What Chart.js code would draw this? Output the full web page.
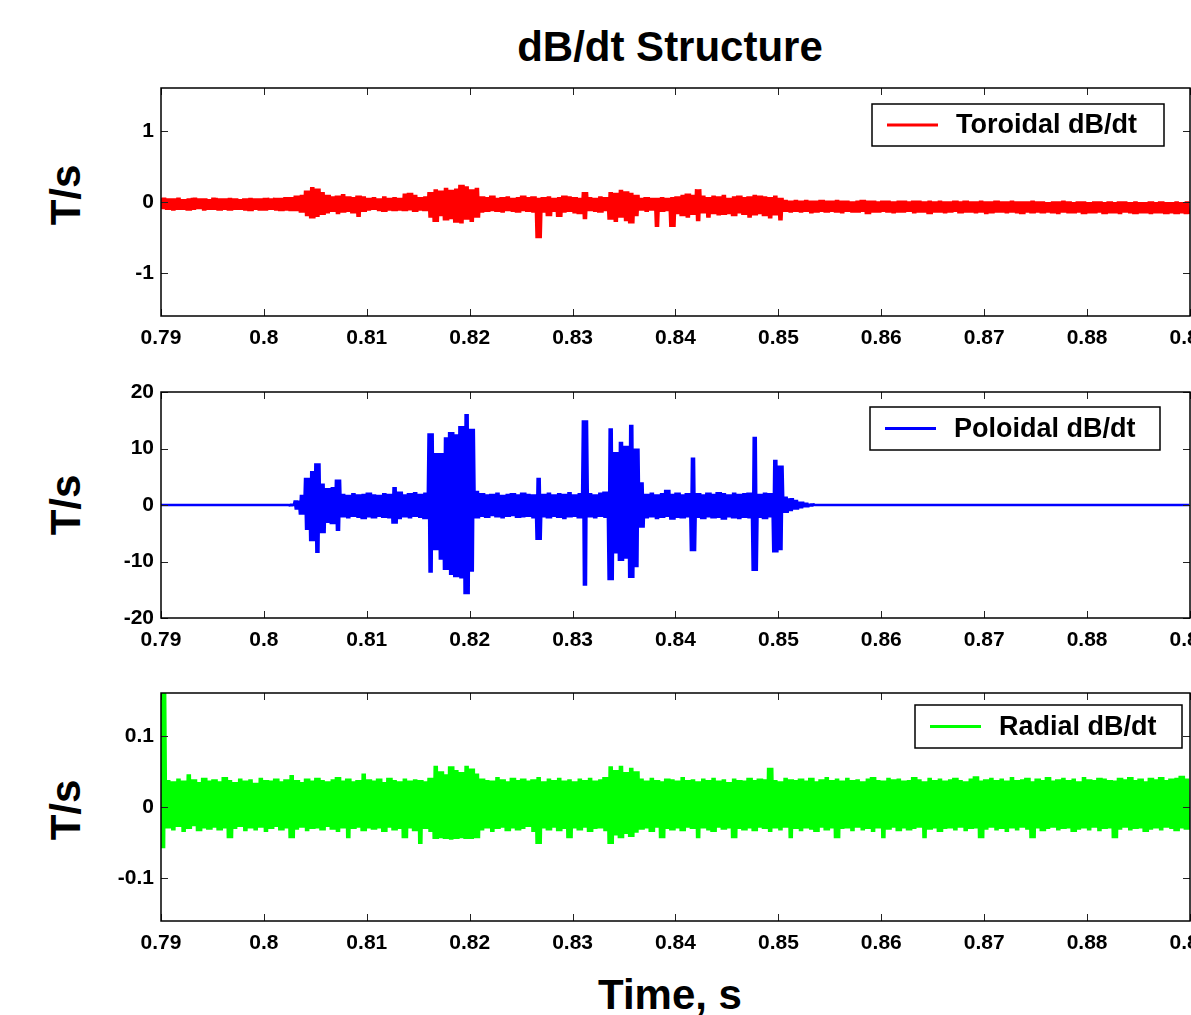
<!DOCTYPE html>
<html>
<head>
<meta charset="utf-8">
<title>dB/dt Structure</title>
<script src="https://cdn.jsdelivr.net/npm/chart.js@4.4.1/dist/chart.umd.min.js"></script>
<style>
  html, body { margin: 0; padding: 0; background: #fff; }
  body { width: 1191px; height: 1015px; overflow: hidden; position: relative;
         font-family: "Liberation Sans", Arial, sans-serif; }
  .panel { position: absolute; left: 0; width: 1240px; }
  .txt { position: absolute; font-weight: bold; color: #000; white-space: nowrap;
         text-align: center; font-size: 42px; line-height: 42px; }
  .ylab { width: 120px; height: 42px; transform: rotate(-90deg); }
</style>
</head>
<body>
<div class="txt" style="left:0;width:1340px;top:26px;">dB/dt Structure</div>
<div class="txt ylab" style="left:6px;top:174px;">T/s</div>
<div class="txt ylab" style="left:6px;top:484px;">T/s</div>
<div class="txt ylab" style="left:6px;top:789px;">T/s</div>
<div class="txt" style="left:0;width:1340px;top:974px;">Time, s</div>

<div class="panel" style="top:78px;height:288px;"><canvas id="torChart" width="1240" height="288"></canvas></div>
<div class="panel" style="top:382px;height:286px;"><canvas id="polChart" width="1240" height="286"></canvas></div>
<div class="panel" style="top:683px;height:288px;"><canvas id="radChart" width="1240" height="288"></canvas></div>

<script>
// time base: 0.5 ms envelope bins starting at 0.79 s
const timeStart = 0.79;
const binWidth = 0.0005;
const subSteps = 5;

const xTicks = [0.79, 0.80, 0.81, 0.82, 0.83, 0.84, 0.85, 0.86, 0.87, 0.88, 0.89];
const toroidalTicks = [-1, 0, 1];
const poloidalTicks = [-20, -10, 0, 10, 20];
const radialTicks = [-0.1, 0, 0.1];

// toroidal envelope, in 0.01 T/s
const toroidalHi = [
  6,5,5,6,4,5,6,5,5,4,6,5,5,6,5,4,5,6,5,5,6,5,6,6,7,7,
  9,10,
  16,21,19,14,
  10,8,9,11,8,7,9,8,
  6,7,5,8,6,7,6,
  12,13,10,
  7,8,
  14,18,16,20,17,19,24,22,18,20,
  8,7,9,6,7,8,6,7,9,7,8,
  6,
  7,8,6,7,9,8,7,6,14,
  7,6,8,7,
  14,13,17,15,13,10,
  6,7,6,
  6,
  7,6,
  7,
  8,10,12,10,18,9,
  7,9,8,10,6,8,9,7,8,10,9,8,7,9,6,
  3,2,3,2,3,2,2,3,2,2, 3,2,2,1,2,3,2,2,1,2, 2,1,2,2,1,2,2,1,2,1, 2,1,1,2,1,2,1,1,2,1,
  1,2,1,1,2,1,1,1,2,1, 1,0,1,1,2,1,0,1,1,0, 1,1,0,1,0,1,1,0,1,0, 0,1,0,1,0,0,1,0,1
];
const toroidalLo = [
  -10,-11,-12,-11,-11,-12,-11,-10,-12,-11,-11,-12,-11,-12,-11,-11,-12,-13,-11,-12,-12,-11,-12,-13,-12,-13,
  -13,-15,
  -20,-23,-21,-18,
  -16,-14,-17,-15,-14,-16,-21,-14,
  -12,-11,-13,-14,-12,-13,-12,
  -13,-12,-14,
  -12,-13,
  -22,-28,-20,-26,-24,-29,-30,-25,-28,-22,
  -15,-14,-13,-14,-15,-13,-14,-15,-13,-14,-15,
  -51,
  -15,-20,-14,-21,-15,-14,-16,-17,-24,
  -13,-14,-15,-13,
  -25,-28,-22,-27,-30,-20,
  -12,-14,-12,
  -35,
  -14,-13,
  -35,
  -17,-20,-22,-18,-27,-16,
  -22,-17,-19,-18,-17,-20,-16,-18,-22,-19,-17,-20,-23,-19,-26,
  -14,-15,-14,-15,-14,-16,-15,-14,-15,-14, -15,-16,-14,-15,-15,-14,-17,-15,-15,-14,
  -15,-16,-15,-15,-14,-16,-15,-15,-17,-15, -15,-16,-15,-14,-16,-15,-15,-16,-15,-17,
  -16,-15,-15,-16,-15,-16,-17,-15,-16,-15, -16,-15,-16,-17,-15,-16,-16,-15,-17,-16,
  -16,-15,-17,-16,-16,-17,-15,-16,-17,-16, -16,-17,-16,-16,-17,-16,-17,-16,-17
];

// poloidal envelope, in 0.1 T/s
const poloidalHi = [
  0,0,0,0,0,0,0,0,0,0,0,0,0,0,0,0,0,0,0,0,0,0,0,0,0,
  1,8,18,
  48,60,74,38,
  30,32,45,
  20,18,21,19,20,22,19,18,21,20,32,24,19,21,23,20,22,
  127,92,92,120,129,125,140,161,135,25,
  21,19,20,22,18,20,21,19,22,20,19,48,
  20,22,19,21,20,23,19,21,
  150,
  21,19,22,24,
  136,94,112,105,142,100,40,
  20,22,19,21,27,20,22,19,21,
  84,
  21,19,22,20,23,21,19,22,20,21,22,
  121,
  20,22,21,
  80,70,
  15,12,9,6,4,2,
  0,0,0,0,0,0,0,0,0,0,0,0,0,0,0,0,0,0,0,0,0,0,0,0,0,0,0,0,0,0,0,0,0,0,0,0,0,
  0,0,0,0,0,0,0,0,0,0,0,0,0,0,0,0,0,0,0,0,0,0,0,0,0,0,0,0,0,0,0,0,0,0,0,0
];
const poloidalLo = [
  0,0,0,0,0,0,0,0,0,0,0,0,0,0,0,0,0,0,0,0,0,0,0,0,0,
  -1,-8,-17,
  -44,-64,-85,-50,
  -32,-34,-46,
  -22,-24,-21,-23,-25,-22,-24,-21,-23,-24,-33,-25,-22,-24,-21,-23,-25,
  -120,-80,-97,-115,-124,-128,-130,-158,-118,-24,
  -21,-23,-20,-22,-24,-21,-20,-23,-22,-21,-24,-62,
  -22,-24,-21,-23,-25,-22,-21,-24,
  -143,
  -22,-24,-21,-23,
  -133,-86,-99,-95,-129,-110,-40,
  -24,-22,-25,-23,-21,-26,-23,-24,-22,
  -82,
  -23,-25,-22,-24,-23,-26,-22,-24,-25,-23,-24,
  -117,
  -23,-25,-22,
  -84,-80,
  -14,-11,-8,-6,-4,-2,
  0,0,0,0,0,0,0,0,0,0,0,0,0,0,0,0,0,0,0,0,0,0,0,0,0,0,0,0,0,0,0,0,0,0,0,0,0,
  0,0,0,0,0,0,0,0,0,0,0,0,0,0,0,0,0,0,0,0,0,0,0,0,0,0,0,0,0,0,0,0,0,0,0,0
];

// radial envelope, in 0.001 T/s
const radialHi = [
  165,
  38,36,40,37,46,39,35,41,37,39, 36,42,38,35,40,37,39,34,41,38,
  37,40,36,39,45,38,35,40,37,41, 38,36,39,42,37,40,36,38,47,39,
  37,40,35,41,38,36,40,37,39,38,
  36,41,
  58,50,46,57,52,49,58,54,47,
  40,38,37,42,39,36,41,38,40,37, 39,42,36,40,38,41,37,39,36,40, 38,41,37,39,42,
  57,52,58,49,55,50,
  40,37,41,38,36,40,39,37,42,38, 39,36,40,38,41,37,39,35,40,38,
  37,41,38,40,39,55,38,36,41,39, 38,40,37,41,36,39,42,38,40,37,
  41,38,39,36,40,42,38,37,41,39, 40,37,38,42,39,36,41,38,40,37,
  39,41,38,36,40,43,37,39,41,38, 40,37,42,38,39,41,36,40,38,42,
  37,39,41,38,40,36,42,39,38,41, 40,38,37,41,39,42,38,40,36,41,
  39,42,38,40,41,44,40
];
const radialLo = [
  -58,
  -30,-33,-28,-35,-31,-27,-34,-30,-32,-29, -33,-30,-44,-31,-28,-34,-30,-33,-29,-35,
  -31,-28,-33,-30,-44,-32,-29,-34,-31,-30, -33,-28,-32,-35,-30,-44,-31,-29,-34,-30,
  -32,-30,-35,-29,-33,-31,-44,-30,-34,-52,
  -31,-35,
  -45,-44,-45,-46,-45,-44,-45,-45,-44,
  -33,-30,-35,-31,-29,-34,-30,-33,-31,-28, -35,-52,-30,-33,-29,-34,-31,-44,-30,-33,
  -29,-35,-31,-30,-34,
  -52,-40,-44,-38,-42,-36,
  -32,-30,-35,-29,-44,-31,-33,-30,-34,-29, -31,-44,-30,-33,-35,-29,-32,-30,-44,-31,
  -33,-30,-34,-29,-31,-35,-30,-33,-29,-44, -31,-34,-30,-32,-35,-29,-33,-30,-44,-31,
  -30,-34,-29,-33,-31,-35,-30,-44,-32,-29, -34,-30,-33,-31,-29,-44,-32,-30,-35,-31,
  -30,-33,-29,-34,-31,-30,-44,-32,-29,-33, -31,-35,-30,-33,-29,-32,-44,-30,-34,-31,
  -29,-33,-31,-30,-35,-32,-30,-33,-29,-34, -31,-30,-44,-32,-29,-33,-31,-30,-35,-32,
  -30,-33,-29,-31,-34,-30,-32
];

// expand each envelope bin into alternating max/min samples
function buildTrace(hi, lo, unit) {
  const pts = [];
  hi.forEach((h, i) => {
    for (let k = 0; k < subSteps; k++) {
      const n = i * subSteps + k;
      pts.push({ x: timeStart + n * binWidth / subSteps, y: (n % 2 === 0 ? h : lo[i]) * unit });
    }
  });
  return pts;
}

// box, inward ticks and the framed legend
const matlabFrame = {
  id: 'matlabFrame',
  afterDatasetsDraw(chart, args, opts) {
    const { ctx, chartArea: a, scales } = chart;
    ctx.save();
    ctx.strokeStyle = '#222';
    ctx.lineWidth = 1;
    ctx.beginPath();
    scales.x.ticks.forEach(t => {
      const px = Math.round(scales.x.getPixelForValue(t.value)) + 0.5;
      ctx.moveTo(px, a.top); ctx.lineTo(px, a.top + 7);
      ctx.moveTo(px, a.bottom); ctx.lineTo(px, a.bottom - 7);
    });
    scales.y.ticks.forEach(t => {
      const py = Math.round(scales.y.getPixelForValue(t.value)) + 0.5;
      ctx.moveTo(a.left, py); ctx.lineTo(a.left + 7, py);
      ctx.moveTo(a.right, py); ctx.lineTo(a.right - 7, py);
    });
    ctx.stroke();
    ctx.strokeStyle = '#000';
    ctx.lineWidth = 1.5;
    ctx.strokeRect(a.left, a.top, a.right - a.left, a.bottom - a.top);

    const lg = opts.legend;
    const bx = a.right - lg.right - lg.width;
    const by = a.top + lg.top;
    ctx.fillStyle = '#fff';
    ctx.fillRect(bx, by, lg.width, lg.height);
    ctx.strokeRect(bx, by, lg.width, lg.height);
    const my = by + lg.height / 2;
    ctx.strokeStyle = lg.color;
    ctx.lineWidth = 3;
    ctx.beginPath();
    ctx.moveTo(bx + 15, my); ctx.lineTo(bx + 66, my);
    ctx.stroke();
    ctx.fillStyle = '#000';
    ctx.font = 'bold 27px "Liberation Sans", Arial, sans-serif';
    ctx.textBaseline = 'middle';
    ctx.fillText(lg.text, bx + 84, my + 1);
    ctx.restore();
  }
};

const tickFont = { family: '"Liberation Sans", Arial, sans-serif', size: 21, weight: 'bold' };
const fmt = v => String(+Number(v).toFixed(2));

function makeChart(id, label, color, data, yMin, yMax, yTicks, legend) {
  return new Chart(document.getElementById(id), {
    type: 'line',
    data: {
      datasets: [{
        label: label,
        data: data,
        borderColor: color,
        borderWidth: 2.5,
        borderJoinStyle: 'bevel',
        pointRadius: 0,
        tension: 0,
        fill: false
      }]
    },
    options: {
      responsive: false,
      animation: false,
      parsing: false,
      normalized: true,
      events: [],
      layout: { padding: { top: 10, right: 50, left: 0, bottom: 0 } },
      scales: {
        x: {
          type: 'linear',
          min: xTicks[0],
          max: xTicks[xTicks.length - 1],
          afterBuildTicks: s => { s.ticks = xTicks.map(v => ({ value: v })); },
          afterFit: s => { s.height = 50; s.paddingLeft = 0; s.paddingRight = 0; },
          grid: { display: false, drawTicks: false },
          border: { display: false },
          ticks: { autoSkip: false, maxRotation: 0, padding: 10, color: '#000', font: tickFont, callback: fmt }
        },
        y: {
          min: yMin,
          max: yMax,
          afterBuildTicks: s => { s.ticks = yTicks.map(v => ({ value: v })); },
          afterFit: s => { s.width = 161; s.paddingTop = 0; s.paddingBottom = 0; },
          grid: { display: false, drawTicks: false },
          border: { display: false },
          ticks: { padding: 7, color: '#000', font: tickFont, callback: fmt }
        }
      },
      plugins: {
        legend: { display: false },
        tooltip: { enabled: false },
        matlabFrame: { legend: legend }
      }
    },
    plugins: [matlabFrame]
  });
}

makeChart('torChart', 'Toroidal dB/dt', '#ff0000', buildTrace(toroidalHi, toroidalLo, 0.01),
  -1.6, 1.6, toroidalTicks,
  { text: 'Toroidal dB/dt', color: '#ff0000', right: 26, top: 16, width: 292, height: 42 });

makeChart('polChart', 'Poloidal dB/dt', '#0000ff', buildTrace(poloidalHi, poloidalLo, 0.1),
  -20, 20, poloidalTicks,
  { text: 'Poloidal dB/dt', color: '#0000ff', right: 30, top: 15, width: 290, height: 43 });

makeChart('radChart', 'Radial dB/dt', '#00ff00', buildTrace(radialHi, radialLo, 0.001),
  -0.16, 0.16, radialTicks,
  { text: 'Radial dB/dt', color: '#00ff00', right: 8, top: 12, width: 267, height: 43 });
</script>
</body>
</html>
